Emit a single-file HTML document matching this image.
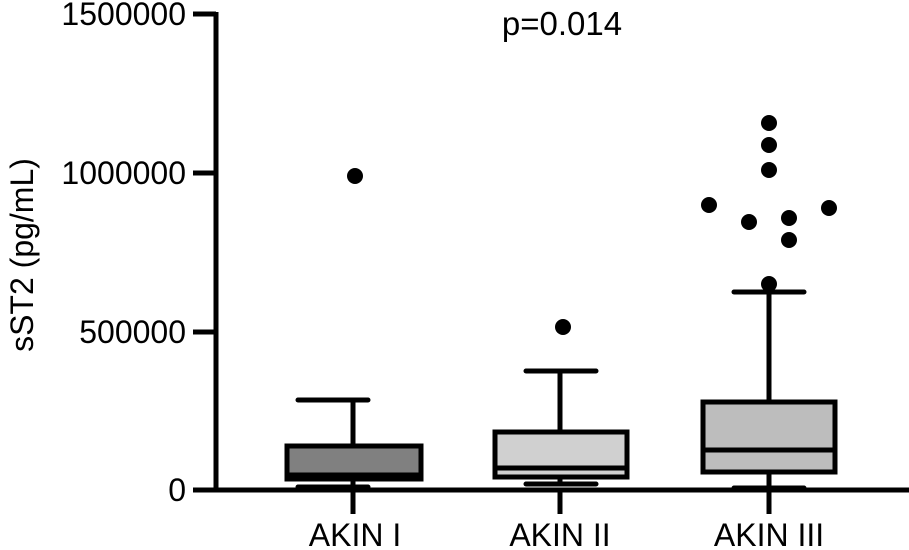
<!DOCTYPE html>
<html><head><style>body{margin:0;background:#fff}svg{display:block}</style></head><body>
<svg width="909" height="550" xmlns="http://www.w3.org/2000/svg" font-family="Liberation Sans, sans-serif">
<g stroke="#000" stroke-width="5" fill="none">
<line x1="216" y1="12" x2="216" y2="492"/>
<line x1="214" y1="490" x2="909" y2="490"/>
<line x1="193" y1="14" x2="216" y2="14"/>
<line x1="193" y1="173" x2="216" y2="173"/>
<line x1="193" y1="332" x2="216" y2="332"/>
<line x1="193" y1="490" x2="216" y2="490"/>
<line x1="353" y1="490" x2="353" y2="514"/>
<line x1="560" y1="490" x2="560" y2="514"/>
<line x1="769" y1="490" x2="769" y2="514"/>
<line x1="353" y1="400" x2="353" y2="446"/><line x1="298" y1="400" x2="368" y2="400" stroke-linecap="round"/>
<line x1="353" y1="479" x2="353" y2="487"/><line x1="298" y1="487" x2="368" y2="487" stroke-linecap="round"/>
<line x1="560" y1="371" x2="560" y2="432"/><line x1="526" y1="371" x2="596" y2="371" stroke-linecap="round"/>
<line x1="560" y1="477" x2="560" y2="484"/><line x1="526" y1="484" x2="596" y2="484" stroke-linecap="round"/>
<line x1="769" y1="292" x2="769" y2="402"/><line x1="734" y1="292" x2="804" y2="292" stroke-linecap="round"/>
<line x1="769" y1="472" x2="769" y2="488"/><line x1="734" y1="488" x2="804" y2="488" stroke-linecap="round"/>
<rect x="287" y="446" width="134" height="33" fill="#808080"/>
<line x1="287" y1="475" x2="421" y2="475"/>
<rect x="495" y="432" width="132" height="45" fill="#d0d0d0"/>
<line x1="495" y1="468" x2="627" y2="468"/>
<rect x="703" y="402" width="132" height="70" fill="#bdbdbd"/>
<line x1="703" y1="450" x2="835" y2="450"/>
</g>
<g fill="#000">
<circle cx="355" cy="176" r="8"/>
<circle cx="563" cy="327" r="8"/>
<circle cx="709" cy="205" r="8"/><circle cx="749" cy="222" r="8"/>
<circle cx="769" cy="123" r="8"/><circle cx="769" cy="145" r="8"/><circle cx="769" cy="170" r="8"/><circle cx="769" cy="284" r="8"/>
<circle cx="789" cy="218" r="8"/><circle cx="789" cy="240" r="8"/><circle cx="829" cy="208" r="8"/>
</g>
<g font-size="32" text-anchor="end" fill="#000">
<text x="186" y="25">1500000</text>
<text x="186" y="184">1000000</text>
<text x="186" y="343">500000</text>
<text x="186" y="501">0</text>
</g>
<g font-size="32" text-anchor="middle" fill="#000">
<text x="355" y="546">AKIN I</text>
<text x="560" y="546">AKIN II</text>
<text x="769" y="546">AKIN III</text>
<text x="562" y="35" font-size="33">p=0.014</text>
<text transform="translate(33,255) rotate(-90)">sST2 (pg/mL)</text>
</g>
</svg>
</body></html>
